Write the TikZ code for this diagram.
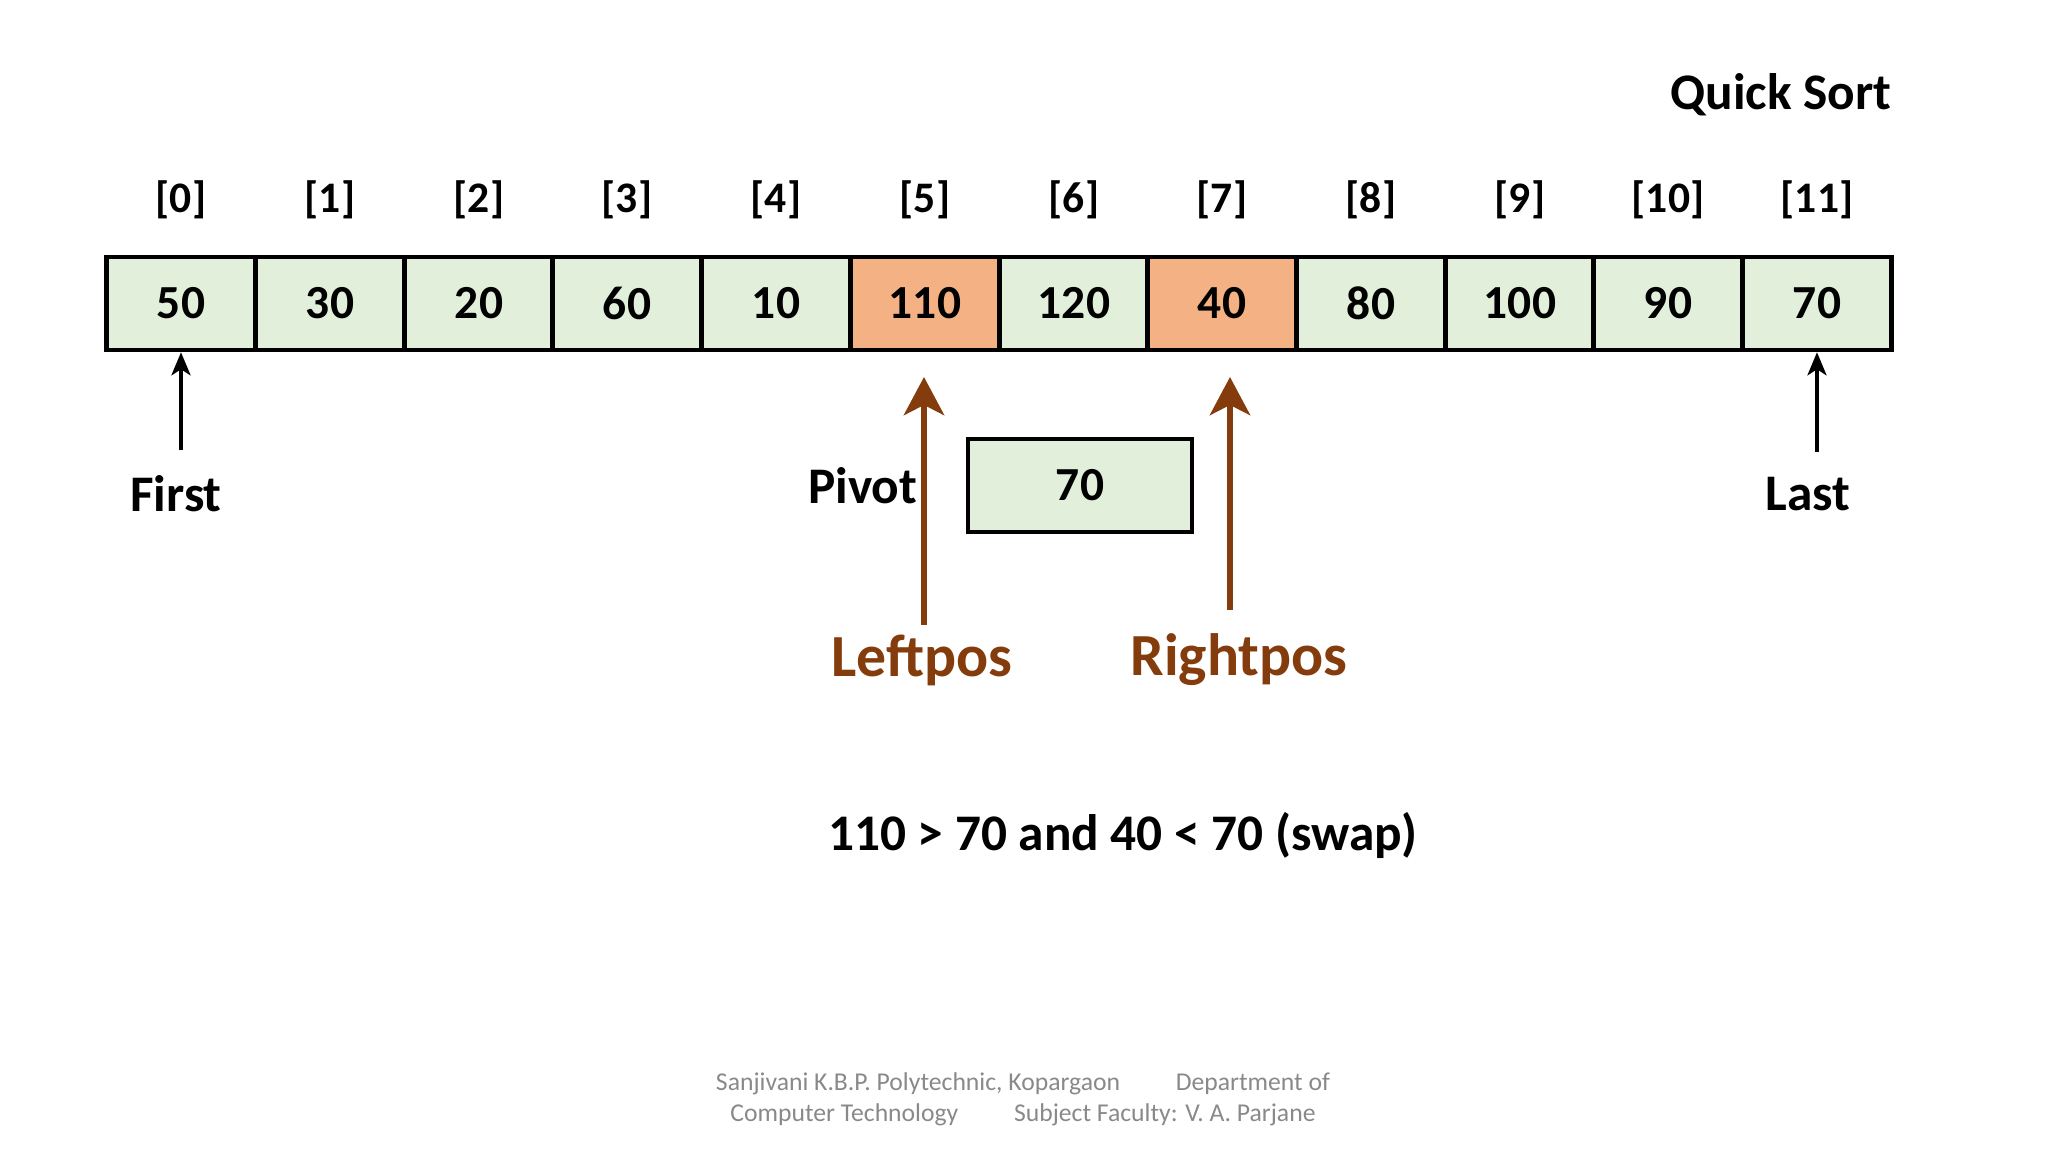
\documentclass[tikz,border=0pt]{standalone}
\usepackage{fontspec}
\setmainfont{Carlito}
\usetikzlibrary{arrows.meta,positioning}
\definecolor{cellgreen}{RGB}{226,239,218}
\definecolor{cellorange}{RGB}{244,177,131}
\definecolor{ptrbrown}{RGB}{132,60,12}
\definecolor{footgray}{RGB}{137,137,137}

\begin{document}
\begin{tikzpicture}[
    cell/.style={draw, line width=1.3pt, fill=cellgreen, minimum width=1.487cm, minimum height=0.93cm, font=\fontsize{13.5}{16}\selectfont\bfseries},
    hot/.style={cell, fill=cellorange},
    idx/.style={font=\fontsize{12.4}{15}\selectfont\bfseries},
    lbl/.style={font=\fontsize{14.6}{18}\selectfont\bfseries},
    poslbl/.style={text=ptrbrown, font=\fontsize{17}{21}\selectfont\bfseries},
    ptr/.style={-{Stealth[length=0.23cm, width=0.19cm, inset=0.06cm]}, line width=1.1pt},
    posptr/.style={-{Stealth[length=0.38cm, width=0.4cm, inset=0.1cm]}, line width=1.9pt, ptrbrown}
]
    \useasboundingbox (0,0) rectangle (20.48,11.52);

    % Title
    \node[lbl, anchor=east, inner sep=0pt] (title) at (18.92,10.57) {Quick Sort};

    % Array cells
    \node[cell] (c0) at (1.81,8.485) {50};
    \node[cell] (c1) at (3.30,8.485) {30};
    \node[cell] (c2) at (4.79,8.485) {20};
    \node[cell] (c3) at (6.27,8.485) {60};
    \node[cell] (c4) at (7.76,8.485) {10};
    \node[hot]  (c5) at (9.25,8.485) {110};
    \node[cell] (c6) at (10.74,8.485) {120};
    \node[hot]  (c7) at (12.22,8.485) {40};
    \node[cell] (c8) at (13.71,8.485) {80};
    \node[cell] (c9) at (15.20,8.485) {100};
    \node[cell] (c10) at (16.68,8.485) {90};
    \node[cell] (c11) at (18.17,8.485) {70};

    % Indices
    \node[idx] (i0) at (1.81,9.52) {[0]};
    \node[idx] (i1) at (3.30,9.52) {[1]};
    \node[idx] (i2) at (4.79,9.52) {[2]};
    \node[idx] (i3) at (6.27,9.52) {[3]};
    \node[idx] (i4) at (7.76,9.52) {[4]};
    \node[idx] (i5) at (9.25,9.52) {[5]};
    \node[idx] (i6) at (10.74,9.52) {[6]};
    \node[idx] (i7) at (12.22,9.52) {[7]};
    \node[idx] (i8) at (13.71,9.52) {[8]};
    \node[idx] (i9) at (15.20,9.52) {[9]};
    \node[idx] (i10) at (16.68,9.52) {[10]};
    \node[idx] (i11) at (18.17,9.52) {[11]};

    % First / Last markers
    \node[lbl] (first) at (1.76,6.58) {First};
    \node[lbl] (last) at (18.08,6.58) {Last};
    \draw[ptr, shorten <=0.13cm] (c0.south |- first.north) -- (c0.south);
    \draw[ptr, shorten <=0.13cm] (c11.south |- last.north) -- (c11.south);

    % Pivot
    \node[cell, minimum width=2.24cm] (pivot) at (10.80,6.665) {70};
    \node[lbl, left=0.36cm of pivot] (pivotlbl) {Pivot};

    % Leftpos / Rightpos
    \node[poslbl] (leftpos) at (9.22,4.92) {Leftpos};
    \node[poslbl] (rightpos) at (12.39,4.92) {Rightpos};
    \coordinate (ltip) at (9.24,7.75);
    \coordinate (rtip) at (12.30,7.75);
    \draw[posptr, shorten <=-0.03cm] (ltip |- leftpos.north) -- (ltip);
    \draw[posptr, shorten <=0.12cm] (rtip |- rightpos.north) -- (rtip);

    % Comparison
    \node[lbl] (cmp) at (11.23,3.16) {110 > 70 and 40 < 70 (swap)};

    % Footer
    \node[text=footgray, align=center, font=\fontsize{7.3}{8.8}\selectfont] (foot) at (10.23,0.53)
        {Sanjivani K.B.P. Polytechnic, Kopargaon\hspace{0.5cm} Department of\\
         Computer Technology\hspace{0.5cm} Subject Faculty: V. A. Parjane};
\end{tikzpicture}
\end{document}
